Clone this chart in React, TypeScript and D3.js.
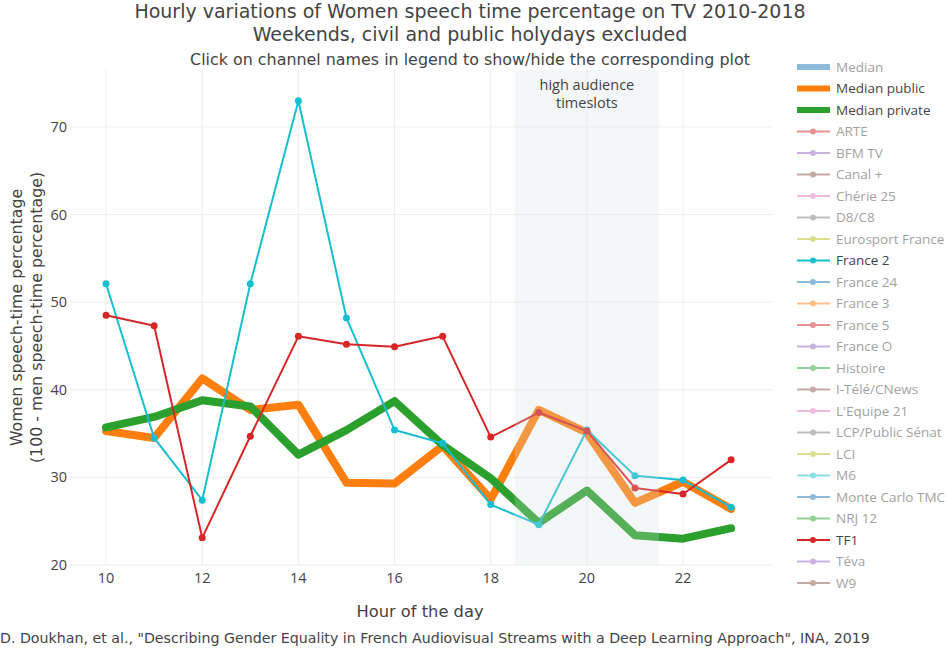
import React, { useEffect } from "react";
import * as d3 from "d3";

const hours = [10, 11, 12, 13, 14, 15, 16, 17, 18, 19, 20, 21, 22, 23];
const medianPublic = [35.3, 34.5, 41.3, 37.7, 38.3, 29.4, 29.3, 33.6, 27.5, 37.7, 35.1, 27.1, 29.5, 26.4];
const medianPrivate = [35.7, 36.9, 38.8, 38.1, 32.6, 35.4, 38.7, 33.7, 29.9, 24.8, 28.5, 23.4, 23.0, 24.2];
const france2 = [52.1, 34.5, 27.4, 52.1, 73.0, 48.2, 35.4, 33.9, 26.9, 24.6, 35.4, 30.2, 29.7, 26.6];
const tf1 = [48.5, 47.3, 23.1, 34.7, 46.1, 45.2, 44.9, 46.1, 34.6, 37.4, 35.3, 28.8, 28.1, 32.0];

const xTicks = [10, 12, 14, 16, 18, 20, 22];
const yTicks = [20, 30, 40, 50, 60, 70];
const highAudience = [18.5, 21.5];

const legendNames = [
  "Median", "Median public", "Median private", "ARTE", "BFM TV", "Canal +", "Chérie 25",
  "D8/C8", "Eurosport France", "France 2", "France 24", "France 3", "France 5", "France O",
  "Histoire", "I-Télé/CNews", "L'Equipe 21", "LCP/Public Sénat", "LCI", "M6",
  "Monte Carlo TMC", "NRJ 12", "TF1", "Téva", "W9",
];
const legendColors = [
  "#1f77b4", "#ff7f0e", "#2ca02c", "#d62728", "#9467bd", "#8c564b", "#e377c2",
  "#7f7f7f", "#bcbd22", "#17becf", "#1f77b4", "#ff7f0e", "#d62728", "#9467bd",
  "#2ca02c", "#8c564b", "#e377c2", "#7f7f7f", "#bcbd22", "#17becf",
  "#1f77b4", "#2ca02c", "#d62728", "#9467bd", "#8c564b",
];
const visibleNames = ["Median public", "Median private", "France 2", "TF1"];
const thickNames = ["Median", "Median public", "Median private"];

const width = 946;
const height = 649;
const marginLeft = 70;
const marginRight = 772;
const marginTop = 70;
const marginBottom = 565;

const titleFont = "'DejaVu Sans', Verdana, sans-serif";
const bodyFont = "'Open Sans', sans-serif";

export default function App() {
  useEffect(() => {
    document.body.style.margin = "0";
  }, []);

  const x = d3.scaleLinear().domain([9.25, 23.85]).range([marginLeft, marginRight]);
  const y = d3.scaleLinear().domain([20, 76.5]).range([marginBottom, marginTop]);

  const line = d3
    .line<number>()
    .x((_, i) => x(hours[i]))
    .y((d) => y(d));

  const series = [
    { values: medianPublic, color: "#ff7f0e", w: 8, r: 0 },
    { values: medianPrivate, color: "#2ca02c", w: 8, r: 0 },
    { values: france2, color: "#17becf", w: 2, r: 3.5 },
    { values: tf1, color: "#d62728", w: 2, r: 3.5 },
  ];

  const legendY = d3.scaleLinear().domain([0, legendNames.length - 1]).range([67, 583]);

  return (
    <svg width={width} height={height} style={{ display: "block", background: "#fff" }}>
      {/* grid */}
      <g stroke="#eeeeee" strokeWidth={1}>
        {xTicks.map((t) => (
          <line key={"gx" + t} x1={x(t)} x2={x(t)} y1={marginTop} y2={marginBottom} />
        ))}
        {yTicks.map((t) => (
          <line key={"gy" + t} x1={marginLeft} x2={marginRight} y1={y(t)} y2={y(t)} />
        ))}
      </g>

      {/* lines */}
      {series.map((s, k) => (
        <g key={k}>
          <path
            d={line(s.values) as string}
            fill="none"
            stroke={s.color}
            strokeWidth={s.w}
            strokeLinejoin="round"
            strokeLinecap="round"
          />
          {s.r > 0 &&
            s.values.map((v, i) => (
              <circle key={i} cx={x(hours[i])} cy={y(v)} r={s.r} fill={s.color} />
            ))}
        </g>
      ))}

      {/* high audience shape, drawn above traces */}
      <rect
        x={x(highAudience[0])}
        width={x(highAudience[1]) - x(highAudience[0])}
        y={marginTop}
        height={marginBottom - marginTop}
        fill="#d5dede"
        opacity={0.25}
      />
      <text x={x(20)} y={90} textAnchor="middle" fontFamily={bodyFont} fontSize={14.5} fill="#444">
        high audience
      </text>
      <text x={x(20)} y={108} textAnchor="middle" fontFamily={bodyFont} fontSize={14.5} fill="#444">
        timeslots
      </text>

      {/* ticks */}
      <g fontFamily={bodyFont} fontSize={14.5} fill="#444">
        {xTicks.map((t) => (
          <text key={"tx" + t} x={x(t)} y={583} textAnchor="middle">
            {t}
          </text>
        ))}
        {yTicks.map((t) => (
          <text key={"ty" + t} x={67} y={y(t) + 5} textAnchor="end">
            {t}
          </text>
        ))}
      </g>

      {/* titles */}
      <g fontFamily={titleFont} fill="#444" textAnchor="middle">
        <text x={470} y={18} fontSize={19}>
          Hourly variations of Women speech time percentage on TV 2010-2018
        </text>
        <text x={470} y={41} fontSize={19}>
          Weekends, civil and public holydays excluded
        </text>
        <text x={470} y={65} fontSize={15.9}>
          Click on channel names in legend to show/hide the corresponding plot
        </text>
        <text x={420} y={617} fontSize={16.3}>
          Hour of the day
        </text>
        <g transform={`translate(22,${(marginTop + marginBottom) / 2}) rotate(-90)`}>
          <text x={0} y={0} fontSize={15.8}>
            Women speech-time percentage
          </text>
          <text x={0} y={20} fontSize={15.8}>
            (100 - men speech-time percentage)
          </text>
        </g>
      </g>
      <text x={0} y={643} fontFamily={titleFont} fontSize={14.2} fill="#444">
        D. Doukhan, et al., "Describing Gender Equality in French Audiovisual Streams with a Deep Learning Approach", INA, 2019
      </text>

      {/* legend */}
      <g fontFamily={bodyFont} fontSize={13.5}>
        {legendNames.map((name, i) => {
          const visible = visibleNames.includes(name);
          const thick = thickNames.includes(name);
          const ly = legendY(i);
          return (
            <g key={name} opacity={visible ? 1 : 0.5}>
              <line
                x1={797}
                x2={830}
                y1={ly}
                y2={ly}
                stroke={legendColors[i]}
                strokeWidth={thick ? 6 : 2}
              />
              {!thick && <circle cx={813} cy={ly} r={3} fill={legendColors[i]} />}
              <text x={836} y={ly + 4.5} fill="#444">
                {name}
              </text>
            </g>
          );
        })}
      </g>
    </svg>
  );
}
